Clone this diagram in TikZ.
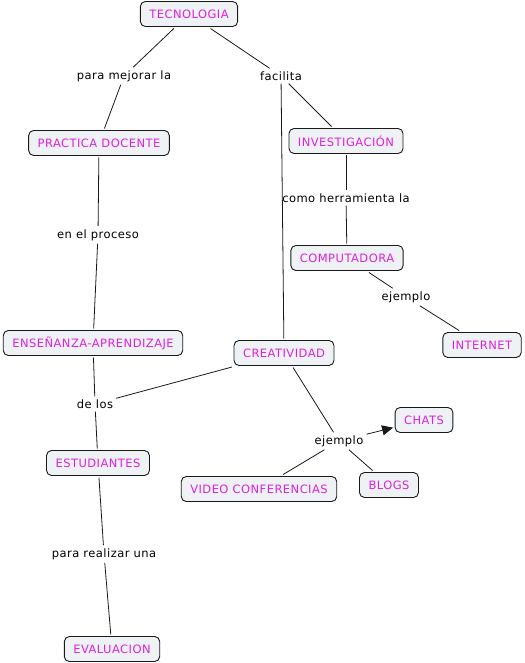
\documentclass[tikz,border=0pt]{standalone}
\usepackage{fontspec}
\setmainfont{DejaVu Sans}[LetterSpace=4]
\usepackage{xcolor}
\usepackage{tikz}
\usetikzlibrary{arrows.meta,positioning}
\definecolor{cmapmagenta}{HTML}{E020E0}
\definecolor{cmapfill}{HTML}{EEF2F5}
\tikzset{
  cmapconcept/.style={draw=black!90, line width=0.9pt, rounded corners=5pt, fill=cmapfill, text=cmapmagenta, align=center, inner xsep=9pt, minimum height=25pt, font=\fontsize{11.5}{13}\selectfont, outer sep=2pt},
  cmaplink/.style={inner sep=3pt, font=\fontsize{11.5}{13}\selectfont, text=black},
  cmapline/.style={draw=black!90, line width=0.8pt},
  cmaparrow/.style={cmapline, -{Triangle[length=11pt,width=10pt]}}
}
\begin{document}
\begin{tikzpicture}[x=1pt, y=-1pt]
\useasboundingbox (0,0) rectangle (524,663);
% concepts
\node[cmapconcept] (tec) at (189,14) {TECNOLOGIA};
\node[cmapconcept] (prac) at (99,143) {PRACTICA DOCENTE};
\node[cmapconcept] (inv) at (346,141) {INVESTIGACIÓN};
\node[cmapconcept] (comp) at (347,258) {COMPUTADORA};
\node[cmapconcept] (inter) at (482,345) {INTERNET};
\node[cmapconcept] (ens) at (93,343) {ENSEÑANZA-APRENDIZAJE};
\node[cmapconcept] (crea) at (284,353) {CREATIVIDAD};
\node[cmapconcept] (chats) at (424,420) {CHATS};
\node[cmapconcept] (blogs) at (389,485) {BLOGS};
\node[cmapconcept] (video) at (259,489) {VIDEO CONFERENCIAS};
\node[cmapconcept] (est) at (98,463) {ESTUDIANTES};
\node[cmapconcept] (eval) at (112,649) {EVALUACION};

% linking phrases
\node[cmaplink] (mejorar) at (124,76) {para mejorar la};
\node[cmaplink] (facilita) at (281,76) {facilita};
\node[cmaplink] (proceso) at (98,235) {en el proceso};
\node[cmaplink] (herram) at (346,198) {como herramienta la};
\node[cmaplink] (ejcomp) at (406,297) {ejemplo};
\node[cmaplink] (delos) at (95,404) {de los};
\node[cmaplink] (ejcrea) at (339,441) {ejemplo};
\node[cmaplink] (realizar) at (104,554) {para realizar una};

% connectors
\draw[cmapline] (tec) -- (mejorar);
\draw[cmapline] (mejorar) -- (prac);
\draw[cmapline] (tec) -- (facilita);
\draw[cmapline] (facilita) -- (inv);
\draw[cmapline] (facilita) -- (crea);
\draw[cmapline] (prac) -- (proceso);
\draw[cmapline] (proceso) -- (ens);
\draw[cmapline] (inv) -- (herram);
\draw[cmapline] (herram) -- (comp);
\draw[cmapline] (comp) -- (ejcomp);
\draw[cmapline] (ejcomp) -- (inter);
\draw[cmapline] (ens) -- (delos);
\draw[cmapline] (crea) -- (delos);
\draw[cmapline] (delos) -- (est);
\draw[cmapline] (crea) -- (ejcrea);
\draw[cmaparrow] (ejcrea) -- (chats);
\draw[cmapline] (ejcrea) -- (video);
\draw[cmapline] (ejcrea) -- (blogs);
\draw[cmapline] (est) -- (realizar);
\draw[cmapline] (realizar) -- (eval);
\end{tikzpicture}
\end{document}
